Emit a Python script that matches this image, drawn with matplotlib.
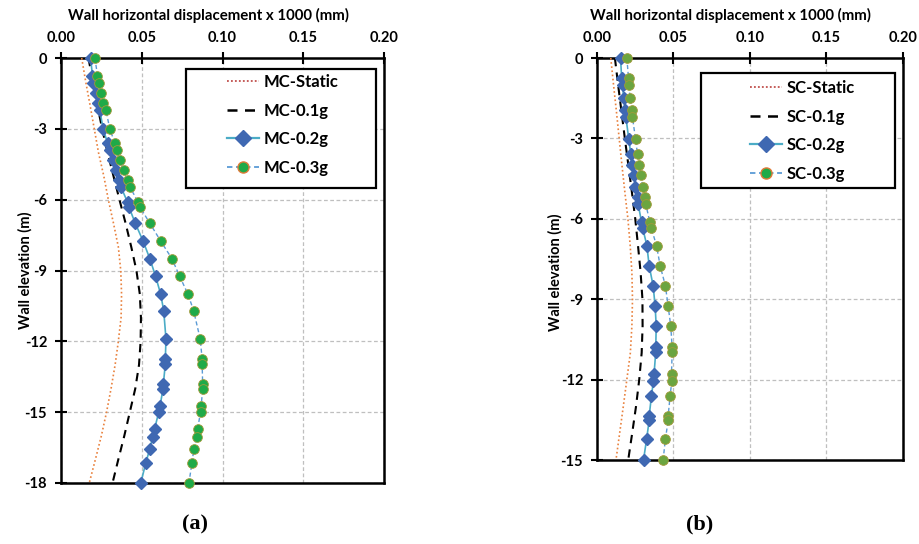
import matplotlib
matplotlib.use('Agg')
import matplotlib.pyplot as plt
from matplotlib.lines import Line2D
from matplotlib.patches import Rectangle

plt.rcParams['font.family'] = ['Lato', 'DejaVu Sans']
plt.rcParams['font.weight'] = 'bold'

# x axis ticks (displacement x 1000, mm)
x_ticks = [0.00, 0.05, 0.10, 0.15, 0.20]
x_tick_labels = ['0.00', '0.05', '0.10', '0.15', '0.20']

# ---- MC wall ----
mc_y_ticks = [0, -3, -6, -9, -12, -15, -18]
mc_y_tick_labels = ['0', '-3', '-6', '-9', '-12', '-15', '-18']

# static and 0.1g curves
mc_curve_elev = [0, -1, -2, -3, -4, -5, -6, -7, -8, -9, -10, -11, -12, -13, -14, -15, -16, -17, -18]
mc_static = [0.0128, 0.0153, 0.0180, 0.0206, 0.0232, 0.0265, 0.0293, 0.0325, 0.0355, 0.0370,
             0.0375, 0.0372, 0.0355, 0.0335, 0.0310, 0.0282, 0.0250, 0.0213, 0.0175]
mc_01g = [0.0170, 0.0197, 0.0225, 0.0255, 0.0288, 0.0325, 0.0362, 0.0400, 0.0435, 0.0467,
          0.0488, 0.0495, 0.0493, 0.0483, 0.0460, 0.0426, 0.0392, 0.0355, 0.0319]

# 0.2g and 0.3g node results
mc_node_elev = [0, -0.75, -1.05, -1.5, -1.92, -2.2, -3.0, -3.6, -3.9, -4.3, -4.75, -5.15, -5.45,
                -6.1, -6.3, -7.0, -7.75, -8.5, -9.25, -10.0, -10.7, -11.9, -12.75, -12.95,
                -13.8, -14.0, -14.75, -15.0, -15.7, -16.05, -16.55, -17.15, -18.0]
mc_02g = [0.0183, 0.0195, 0.0200, 0.0214, 0.0230, 0.0240, 0.0261, 0.0288, 0.0302, 0.0319, 0.0340,
          0.0360, 0.0370, 0.0412, 0.0420, 0.0460, 0.0508, 0.0550, 0.0586, 0.0617, 0.0636, 0.0650,
          0.0646, 0.0646, 0.0634, 0.0632, 0.0613, 0.0605, 0.0580, 0.0568, 0.0550, 0.0525, 0.0494]
mc_03g = [0.0210, 0.0226, 0.0235, 0.0245, 0.0261, 0.0278, 0.0302, 0.0333, 0.0344, 0.0364, 0.0389,
          0.0412, 0.0426, 0.0477, 0.0488, 0.0550, 0.0617, 0.0687, 0.0735, 0.0786, 0.0821, 0.0862,
          0.0874, 0.0874, 0.0877, 0.0877, 0.0868, 0.0864, 0.0846, 0.0840, 0.0823, 0.0811, 0.0792]
mc_labels = ['MC-Static', 'MC-0.1g', 'MC-0.2g', 'MC-0.3g']

# ---- SC wall ----
sc_y_ticks = [0, -3, -6, -9, -12, -15]
sc_y_tick_labels = ['0', '-3', '-6', '-9', '-12', '-15']

sc_curve_elev = [0, -1, -2, -3, -4, -5, -6, -7, -8, -9, -10, -11, -12, -13, -14, -15]
sc_static = [0.0090, 0.0108, 0.0127, 0.0145, 0.0163, 0.0182, 0.0202, 0.0217, 0.0228, 0.0232,
             0.0228, 0.0218, 0.0195, 0.0172, 0.0148, 0.0124]
sc_01g = [0.0117, 0.0138, 0.0160, 0.0182, 0.0205, 0.0228, 0.0250, 0.0268, 0.0285, 0.0297,
          0.0298, 0.0292, 0.0276, 0.0255, 0.0230, 0.0204]

sc_node_elev = [0, -0.75, -1.0, -1.5, -1.95, -2.22, -3.03, -3.6, -4.0, -4.35, -4.8, -5.18, -5.45,
                -6.12, -6.33, -7.0, -7.76, -8.5, -9.26, -10.0, -10.8, -10.97, -11.78, -12.05,
                -12.6, -13.36, -13.52, -14.23, -15.0]
sc_02g = [0.0154, 0.0161, 0.0167, 0.0174, 0.0185, 0.0189, 0.0208, 0.0221, 0.0230, 0.0239, 0.0250,
          0.0265, 0.0269, 0.0291, 0.0298, 0.0326, 0.0341, 0.0367, 0.0380, 0.0387, 0.0384, 0.0384,
          0.0373, 0.0369, 0.0356, 0.0341, 0.0341, 0.0324, 0.0304]
sc_03g = [0.0195, 0.0206, 0.0208, 0.0217, 0.0228, 0.0232, 0.0252, 0.0265, 0.0276, 0.0287, 0.0298,
          0.0315, 0.0319, 0.0345, 0.0354, 0.0389, 0.0413, 0.0447, 0.0465, 0.0482, 0.0491, 0.0491,
          0.0487, 0.0489, 0.0478, 0.0465, 0.0465, 0.0447, 0.0432]
sc_labels = ['SC-Static', 'SC-0.1g', 'SC-0.2g', 'SC-0.3g']

STATIC_C = '#E9823F'
LINE02_C = '#4BACC6'
DIAMOND_C = '#3F68B2'
LINE03_C = '#5B9BD5'
GREEN_MC = '#1FAA48'
GREEN_SC = '#6BA540'
EDGE03 = '#A39A3A'


def static_handle():
    return Line2D([], [], color='#C0504D', linestyle=(0, (1, 1.2)), lw=1.3)


def g01_handle():
    return Line2D([], [], color='black', linestyle=(0, (4, 3)), lw=1.8)


def g02_handle():
    return Line2D([], [], color=LINE02_C, lw=1.6, marker='D', ms=8,
                  mfc=DIAMOND_C, mec=DIAMOND_C)


def g03_handle(fill):
    return Line2D([], [], color=LINE03_C, lw=1.3, linestyle=(0, (3, 2)), marker='o', ms=8,
                  mfc=fill, mec='#E07B39', mew=1.0)


def draw_panel(ax, curve_elev, static, g01, node_elev, g02, g03, green, y_ticks, y_tick_labels,
               labels, box, hand_anchor, xlab_xy, ylab_xy):
    ax.plot(static, curve_elev, color=STATIC_C, linestyle=(0, (1, 1.5)), lw=1.2, zorder=3)
    ax.plot(g01, curve_elev, color='black', linestyle=(0, (4, 3)), lw=1.5, zorder=3)
    ax.plot(g02, node_elev, color=LINE02_C, lw=1.2, marker='D', ms=6.5,
            mfc=DIAMOND_C, mec=DIAMOND_C, zorder=4, clip_on=False)
    ax.plot(g03, node_elev, color=LINE03_C, lw=1.0, linestyle=(0, (3, 2)), marker='o', ms=7,
            mfc=green, mec=EDGE03, mew=0.6, zorder=4, clip_on=False)

    ax.set_xlim(0, 0.2)
    ax.set_ylim(y_ticks[-1], 0)
    ax.set_xticks(x_ticks)
    ax.set_xticklabels(x_tick_labels)
    ax.set_yticks(y_ticks)
    ax.set_yticklabels(y_tick_labels)

    ax.xaxis.tick_top()
    ax.tick_params(axis='x', direction='inout', length=8, width=1.5, labelsize=10.5, pad=5,
                   top=True, bottom=False)
    ax.tick_params(axis='y', direction='inout', length=8, width=1.5, labelsize=10.5, pad=6,
                   left=True, right=False)
    for s in ax.spines.values():
        s.set_linewidth(1.8)
        s.set_color('black')

    ax.set_axisbelow(True)
    ax.grid(True, color='#BFBFBF', linestyle=(0, (3, 2)), linewidth=0.9)

    ax.set_xlabel('Wall horizontal displacement x 1000 (mm)', fontsize=10.8, fontweight='bold')
    ax.xaxis.set_label_position('top')
    ax.xaxis.set_label_coords(*xlab_xy)
    ax.set_ylabel('Wall elevation (m)', fontsize=10.5, fontweight='bold')
    ax.yaxis.set_label_coords(*ylab_xy)

    # legend frame drawn on its own, entries placed inside it
    ax.add_patch(Rectangle(box[:2], box[2], box[3], transform=ax.transAxes,
                           facecolor='white', edgecolor='black', lw=1.6, zorder=5))
    handles = [static_handle(), g01_handle(), g02_handle(), g03_handle(GREEN_MC)]
    leg = ax.legend(handles, labels, loc='upper left', bbox_to_anchor=hand_anchor,
                    frameon=False, prop={'weight': 'bold', 'size': 12}, handlelength=1.9,
                    handletextpad=0.3, labelspacing=0.75, borderpad=0, borderaxespad=0)
    leg.set_zorder(6)


fig = plt.figure(figsize=(9.2, 5.44), dpi=100)
ax1 = fig.add_axes([61 / 920, 1 - 483 / 544, 323 / 920, 425 / 544])
ax2 = fig.add_axes([597 / 920, 1 - 460 / 544, 306 / 920, 402 / 544])

draw_panel(ax1, mc_curve_elev, mc_static, mc_01g, mc_node_elev, mc_02g, mc_03g, GREEN_MC,
           mc_y_ticks, mc_y_tick_labels, mc_labels,
           (0.387, 0.694, 0.588, 0.280), (0.514, 0.962), (0.455, 1.089), (-0.087, 0.501))
draw_panel(ax2, sc_curve_elev, sc_static, sc_01g, sc_node_elev, sc_02g, sc_03g, GREEN_SC,
           sc_y_ticks, sc_y_tick_labels, sc_labels,
           (0.339, 0.677, 0.635, 0.286), (0.500, 0.945), (0.435, 1.095), (-0.111, 0.468))

fig.text(195 / 920, 1 - 524 / 544, '(a)', ha='center', va='center',
         family='Liberation Serif', fontweight='bold', fontsize=16)
fig.text(700 / 920, 1 - 524 / 544, '(b)', ha='center', va='center',
         family='Liberation Serif', fontweight='bold', fontsize=16)

fig.savefig('out.png', dpi=100, facecolor='white')
